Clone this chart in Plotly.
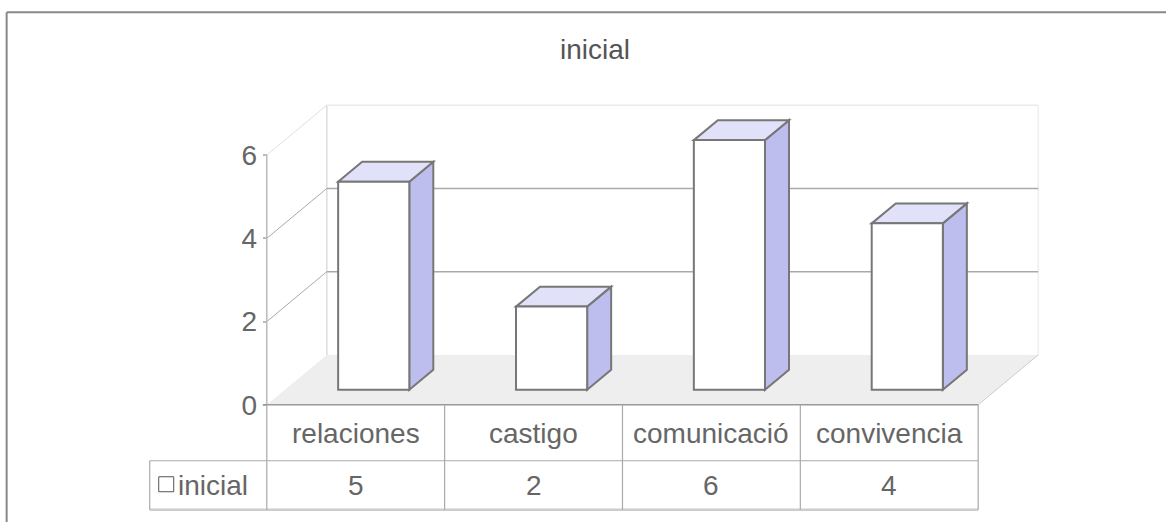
import plotly.graph_objects as go

# ---------------- data ----------------
categories = ["relaciones", "castigo", "comunicació", "convivencia"]
values = [5, 2, 6, 4]
series_name = "inicial"
y_ticks = [0, 2, 4, 6]
y_max = 6

# ---------------- layout constants ----------------
W, H = 1166, 522
FONT = "Liberation Sans, Arial, sans-serif"
TXT = "#666666"
FS = 28
n = len(categories)
DX = 0.3376          # depth offset (category units)
DY = 1.2             # depth offset (value units)
BAR_W = 0.4          # bar width (category units)
BAR_OFF = 0.3        # bar left offset inside category
D0, D1 = 0.3, 0.7    # bar depth span (fraction of full depth)
PAD_X, PAD_Y = 0.1, 0.1
xr = [-PAD_X, n + DX + PAD_X]
yr = [-PAD_Y, y_max + DY + PAD_Y]
UX, UY = 177.75, 41.67   # px per unit
L = 267 - PAD_X * UX
R = W - (267 + (n + DX + PAD_X) * UX)
T = 405 - (y_max + DY + PAD_Y) * UY
B = H - (405 + PAD_Y * UY)
plot_w = W - L - R
plot_h = H - T - B


def dxp(xd):
    return (xd - xr[0]) / (xr[1] - xr[0])


def ppx(px):
    return (px - L) / plot_w


def ppy(py):
    return (H - B - py) / plot_h


def path(pts):
    return "M " + " L ".join(f"{x:.4f},{y:.4f}" for x, y in pts) + " Z"


shapes = []


def line(x0, y0, x1, y1, color, width, ref="x"):
    r = "x" if ref == "x" else "paper"
    ry = "y" if ref == "x" else "paper"
    shapes.append(dict(type="line", xref=r, yref=ry, x0=x0, y0=y0, x1=x1, y1=y1,
                       line=dict(color=color, width=width), layer="above"))


def poly(pts, fill, color, width):
    shapes.append(dict(type="path", xref="x", yref="y", path=path(pts), fillcolor=fill,
                       line=dict(color=color, width=width), layer="above"))


# floor
poly([(0, 0), (n, 0), (n + DX, DY), (DX, DY)], "#eeeeee", "rgba(0,0,0,0)", 0)
line(n, 0, n + DX, DY, "#cccccc", 1)
# back wall
line(DX, DY, DX, y_max + DY, "#dddddd", 1.5)
line(n + DX, DY, n + DX, y_max + DY, "#eeeeee", 1.5)
for t in y_ticks[1:]:
    col = "#eaeaea" if t == y_max else "#aaaaaa"
    line(DX, t + DY, n + DX, t + DY, col, 1.5)
    line(0, t, DX, t + DY, "#e0e0e0" if t == y_max else "#aaaaaa", 1)
# front axis
line(0, 0, 0, y_max, "#bbbbbb", 1.5)

# bars
for i, v in enumerate(values):
    x0 = i + BAR_OFF + D0 * DX
    x1 = x0 + BAR_W
    yb = D0 * DY
    yt = v + yb
    ddx = (D1 - D0) * DX
    ddy = (D1 - D0) * DY
    poly([(x1, yb), (x1 + ddx, yb + ddy), (x1 + ddx, yt + ddy), (x1, yt)], "#bdbdee", "#777777", 2)
    poly([(x0, yt), (x1, yt), (x1 + ddx, yt + ddy), (x0 + ddx, yt + ddy)], "#e1e1fa", "#777777", 2)
    poly([(x0, yb), (x1, yb), (x1, yt), (x0, yt)], "#ffffff", "#777777", 2)

# ---------------- data table (paper coords) ----------------
row_top = ppy(405)
row_mid = ppy(461)
row_bot = ppy(510)
leg_left = ppx(150)
line(ppx(263), row_top, dxp(n), row_top, "#999999", 1.5, ref="p")
line(leg_left, row_mid, dxp(n), row_mid, "#aaaaaa", 1.2, ref="p")
line(leg_left, row_bot, dxp(n), row_bot, "#cccccc", 2.5, ref="p")
line(leg_left, row_mid, leg_left, row_bot, "#aaaaaa", 1.2, ref="p")
for i in range(n + 1):
    line(dxp(i), row_top, dxp(i), row_bot, "#aaaaaa", 1.2, ref="p")
# legend square
shapes.append(dict(type="rect", xref="paper", yref="paper", x0=ppx(159), x1=ppx(174),
                   y0=ppy(477), y1=ppy(492), line=dict(color="#555555", width=1),
                   fillcolor="white", layer="above"))
# outer frame (top & left)
line(ppx(7), ppy(12), ppx(W + 5), ppy(12), "#888888", 2, ref="p")
line(ppx(7), ppy(12), ppx(7), ppy(H + 5), "#888888", 2, ref="p")

annotations = []
for i, (c, v) in enumerate(zip(categories, values)):
    annotations.append(dict(x=dxp(i + 0.5), y=ppy(434), xref="paper", yref="paper", text=c,
                            showarrow=False, xanchor="center", yanchor="middle",
                            font=dict(family=FONT, size=FS, color=TXT)))
    annotations.append(dict(x=dxp(i + 0.5), y=ppy(486), xref="paper", yref="paper", text=str(v),
                            showarrow=False, xanchor="center", yanchor="middle",
                            font=dict(family=FONT, size=FS, color=TXT)))
annotations.append(dict(x=ppx(176), y=ppy(486), xref="paper", yref="paper", text=series_name,
                        showarrow=False, xanchor="left", yanchor="middle",
                        font=dict(family=FONT, size=FS, color=TXT)))

fig = go.Figure()
fig.add_trace(go.Scatter(x=[None], y=[None], showlegend=False, hoverinfo="skip"))
fig.update_layout(
    width=W, height=H,
    margin=dict(l=L, r=R, t=T, b=B, autoexpand=False),
    paper_bgcolor="white", plot_bgcolor="white",
    showlegend=False,
    title=dict(text=series_name, x=595 / W, xref="container", xanchor="center",
               y=1 - 49 / H, yref="container", yanchor="middle",
               font=dict(family=FONT, size=FS, color="#555555")),
    xaxis=dict(range=xr, visible=False, fixedrange=True),
    yaxis=dict(range=yr, showgrid=False, zeroline=False, showline=False,
               tickmode="array", tickvals=y_ticks, ticktext=[str(t) for t in y_ticks],
               ticks="outside", ticklen=4, tickcolor="#bbbbbb", tickwidth=1.5,
               anchor="free", position=dxp(0),
               tickfont=dict(family=FONT, size=FS, color=TXT), fixedrange=True),
    shapes=shapes,
    annotations=annotations,
)
fig.write_html("out.html", config={"displayModeBar": False},
               post_script="document.body.style.margin='0';document.body.style.overflow='hidden';")
